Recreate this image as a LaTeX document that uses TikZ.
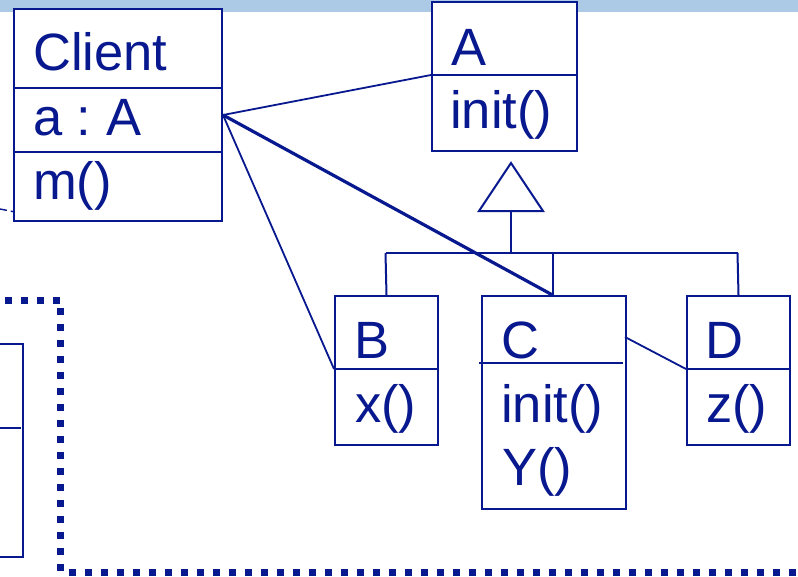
\documentclass[tikz,border=0pt]{standalone}
\usepackage{fontspec}
\setmainfont{Liberation Sans}
\frenchspacing
\definecolor{ub}{RGB}{8,24,142}
\definecolor{barblue}{RGB}{172,202,230}
\begin{document}
\begin{tikzpicture}[x=1pt,y=-1pt,
  box/.style={draw=ub, line width=2pt, fill=white, rectangle, inner sep=0pt, anchor=north west},
  lbl/.style={text=ub, font=\fontsize{52.5}{62}\selectfont\frenchspacing, anchor=base west, inner sep=0pt},
  conn/.style={draw=ub, line width=1.8pt},
  thickconn/.style={draw=ub, line width=3.2pt},
  divider/.style={draw=ub, line width=2pt},
  dotborder/.style={draw=ub, line width=7pt, dash pattern=on 7pt off 9pt, dash phase=11pt},
  thindash/.style={draw=ub, line width=1.4pt, dash pattern=on 7pt off 4pt}]
\useasboundingbox (0,0) rectangle (798,576);
\fill[white] (0,0) rectangle (798,576);
% top bar
\fill[barblue] (0,0) rectangle (798,12);

% dotted border
\draw[dotborder] (0,300) -- (60.7,300) -- (60.7,572) -- (805,572);

% partial box at left
\draw[ub, line width=2pt] (-5,344) -- (23,344) -- (23,557) -- (-5,557);
\draw[divider] (0,428) -- (20.7,428);

% dashed line into client
\draw[thindash] (0,209) -- (30,215);

% boxes
\node[box, minimum width=208pt, minimum height=212pt] (client) at (13,8) {};
\node[box, minimum width=145pt, minimum height=149pt] (a) at (431,1) {};
\node[box, minimum width=103pt, minimum height=149pt] (b) at (334,295) {};
\node[box, minimum width=144pt, minimum height=213pt] (c) at (481,295) {};
\node[box, minimum width=103pt, minimum height=149pt] (d) at (686,295) {};

% dividers
\draw[divider] (client.west |- 0,88) -- (client.east |- 0,88);
\draw[divider] (client.west |- 0,152) -- (client.east |- 0,152);
\draw[divider] (a.west |- 0,75) -- (a.east |- 0,75);
\draw[divider] (b.west |- 0,369) -- (b.east |- 0,369);
\draw[divider] (479,362.5) -- (623,362.5);
\draw[divider] (d.west |- 0,369) -- (d.east |- 0,369);

% connection points
\coordinate (adiv) at (431,75);
\coordinate (bdiv) at (334,369);
\coordinate (cright) at (625,337);
\coordinate (ddiv) at (686,369);
\coordinate (ctop) at (552.5,295);

% associations
\draw[conn] (client.east) -- (adiv);
\draw[conn] (client.east) -- (bdiv);
\draw[thickconn] (client.east) -- (ctop);
\draw[conn] (cright) -- (ddiv);

% generalization
\coordinate (apex) at (511,163);
\coordinate (basemid) at (511,211);
\coordinate (hub) at (511,253);
\coordinate (hl) at (385.5,253);
\coordinate (hr) at (737.5,253);
\draw[ub, line width=2pt, fill=white, line join=miter] (apex) -- (543,211) -- (479,211) -- cycle;
\draw[conn, line width=2pt] (basemid) -- (hub);
\draw[conn, line width=2pt] (hl) -- (hr);
\draw[conn, line width=2pt] (hl) -- (b.north);
\draw[conn, line width=2pt] (hub -| ctop) -- (ctop);
\draw[conn, line width=2pt] (hr) -- (d.north);

% labels
\node[lbl] (tclient) at (33,70) {Client};
\node[lbl] (tclienta) at (33,135) {a : A};
\node[lbl] (tclientm) at (33,199) {m()};
\node[lbl] (ta) at (451,65) {A};
\node[lbl] (tainit) at (450,128) {init()};
\node[lbl] (tb) at (354,358) {B};
\node[lbl] (tbx) at (355,422) {x()};
\node[lbl] (tc) at (501,358) {C};
\node[lbl] (tcinit) at (501,422) {init()};
\node[lbl] (tcy) at (502,485) {Y()};
\node[lbl] (td) at (705,358) {D};
\node[lbl] (tdz) at (706,422) {z()};
\end{tikzpicture}
\end{document}
